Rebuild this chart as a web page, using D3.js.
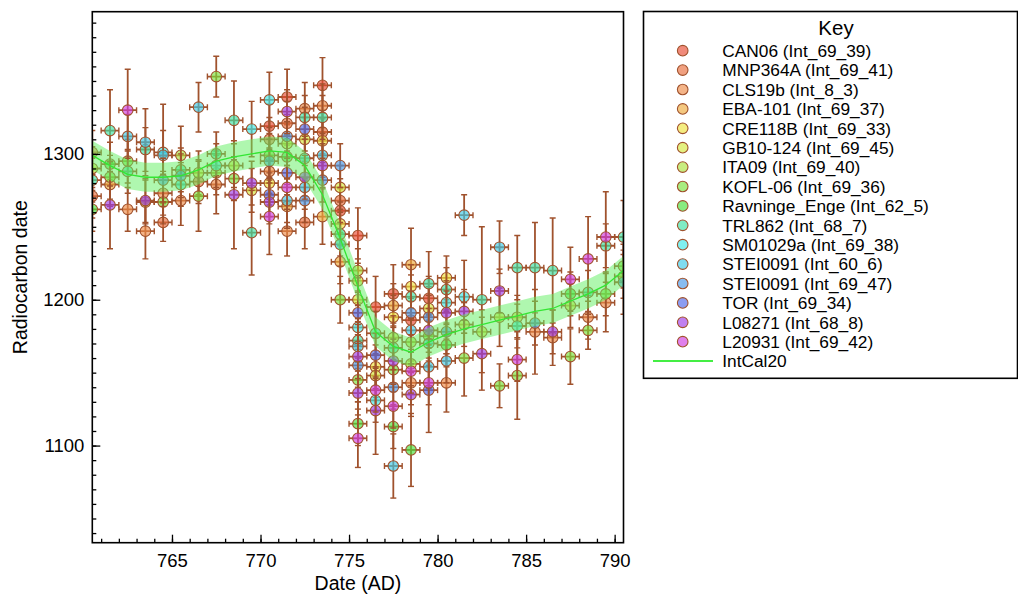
<!DOCTYPE html>
<html>
<head>
<meta charset="utf-8">
<script src="https://cdn.jsdelivr.net/npm/d3@7"></script>
<style>
  body { margin: 0; background: #fff; }
  svg { display: block; }
  text { font-family: "Liberation Sans", Arial, Helvetica, sans-serif; fill: #000; }
</style>
</head>
<body>
<svg id="chart" width="1018" height="595"></svg>
<script>
// series names, in key order
const names = [
  "CAN06 (Int_69_39)", "MNP364A (Int_69_41)", "CLS19b (Int_8_3)", "EBA-101 (Int_69_37)",
  "CRE118B (Int_69_33)", "GB10-124 (Int_69_45)", "ITA09 (Int_69_40)", "KOFL-06 (Int_69_36)",
  "Ravninge_Enge (Int_62_5)", "TRL862 (Int_68_7)", "SM01029a (Int_69_38)", "STEI0091 (Int_60_6)",
  "STEI0091 (Int_69_47)", "TOR (Int_69_34)", "L08271 (Int_68_8)", "L20931 (Int_69_42)"
];

// [year AD, radiocarbon age, 1 sigma]
const can06 = [[770.5,1319,15],[771.5,1339,19],[773.5,1347,19],[774.5,1261,15],[775.5,1244,19],
  [776.5,1195,21],[777.5,1204,20],[778.5,1186,15],[779.5,1201,15]];
const mnp364a = [[760.5,1271,15],[764.5,1253,13],[766.5,1281,15],[770.5,1310,15],[771.5,1321,15],
  [772.5,1253,18],[773.5,1315,15],[774.5,1268,15]];
const cls19b = [[760.5,1301,15],[762.5,1262,15],[763.5,1247,19],[764.5,1273,15],[765.5,1268,17],
  [767.5,1279,20],[770.5,1288,15],[771.5,1247,17],[772.5,1331,18],[773.5,1333,15],[778.5,1143,15],
  [780.5,1143,20],[785.5,1178,29],[786.5,1174,19],[788.5,1188,15],[789.5,1198,20]];
const eba101 = [[761.5,1279,15],[771.5,1264,15],[773.5,1257,19],[774.5,1226,15],[777.5,1196,15],
  [778.5,1224,25]];
const cre118b = [[770.5,1280,15],[773.5,1309,15],[774.5,1252,15],[775.5,1213,15],[776.5,1154,15],
  [777.5,1188,15],[778.5,1209,15],[780.5,1215,15]];
const gb10124 = [[760.5,1290,15],[763.5,1267,15],[766.5,1287,15],[768.5,1292,15],[769.5,1275,15],
  [771.5,1307,15],[772.5,1310,15],[774.5,1277,15],[775.5,1200,15],[776.5,1148,15],[777.5,1174,15],
  [778.5,1156,15],[779.5,1194,15],[781.5,1183,15],[782.5,1178,15],[783.5,1188,20],[784.5,1188,15],
  [787.5,1196,15]];
const ita09 = [[765.5,1299,20],[767.5,1287,15],[775.5,1220,15],[778.5,1171,15],[790.5,1216,15]];
const kofl06 = [[761.5,1284,15],[762.5,1295,15],[764.5,1267,15],[766.5,1271,24],[767.5,1353,14],
  [768.5,1283,15],[770.5,1299,15],[774.5,1200,16],[775.5,1145,15],[777.5,1152,15],[779.5,1175,15],
  [781.5,1160,26],[783.5,1141,15],[784.5,1148,30],[787.5,1161,19],[788.5,1179,13],[789.5,1204,15],
  [790.5,1223,15]];
const ravninge = [[760.5,1262,15],[761.5,1293,15],[771.5,1298,15],[775.5,1115,15],[777.5,1113,15],
  [778.5,1097,25],[780.5,1169,15],[787.5,1204,15]];
const trl862 = [[760.5,1282,15],[761.5,1316,28],[762.5,1288,15],[763.5,1303,15],[765.5,1289,15],
  [767.5,1300,15],[768.5,1323,27],[769.5,1246,29],[772.5,1325,15],[773.5,1325,15],[774.5,1245,15],
  [775.5,1172,15],[776.5,1177,15],[777.5,1167,15],[778.5,1202,15],[779.5,1211,22],[780.5,1207,15],
  [782.5,1200,50],[784.5,1222,22],[785.5,1222,31],[786.5,1220,36],[788.5,1205,15],[789.5,1237,15],
  [790.5,1243,25]];
const sm01029a = [[764.5,1301,15],[765.5,1279,15],[767.5,1292,15],[769.5,1317,19],[770.5,1337,19],
  [772.5,1297,15],[775.5,1181,15],[776.5,1131,15],[779.5,1170,15],[780.5,1198,15],[781.5,1202,25],
  [784.5,1182,15]];
const stei60 = [[762.5,1312,15],[763.5,1308,23],[764.5,1299,35],[766.5,1332,17],[771.5,1268,15],
  [772.5,1277,15],[773.5,1299,15],[774.5,1238,15],[775.5,1168,15],[777.5,1086,22],[778.5,1179,15],
  [779.5,1154,15],[780.5,1158,15],[781.5,1258,14],[783.5,1236,18]];
const stei69 = [[764.5,1282,15],[765.5,1285,15],[770.5,1295,15],[771.5,1312,15],[772.5,1268,15],
  [773.5,1282,15],[774.5,1292,15],[775.5,1155,15],[777.5,1140,15],[778.5,1191,15],[779.5,1188,15],
  [780.5,1178,15],[785.5,1184,15],[790.5,1212,22]];
const tor = [[770.5,1272,15],[771.5,1287,15],[772.5,1317,15],[775.5,1191,15],[776.5,1162,15],
  [779.5,1138,29]];
const l08271 = [[761.5,1265,30],[763.5,1268,15],[768.5,1272,37],[769.5,1280,15],[770.5,1267,15],
  [771.5,1329,15],[772.5,1284,15],[773.5,1292,15],[775.5,1161,15],[775.5,1136,15],[776.5,1124,30],
  [777.5,1158,15],[778.5,1135,15],[779.5,1179,15],[780.5,1191,15],[781.5,1192,15],[782.5,1163,25],
  [783.5,1206,15],[786.5,1178,15]];
const l20931 = [[762.5,1330,28],[770.5,1257,26],[771.5,1277,15],[775.5,1105,20],[776.5,1138,15],
  [777.5,1127,15],[778.5,1151,15],[779.5,1143,15],[784.5,1159,15],[787.5,1214,22],[788.5,1228,29],
  [789.5,1243,31]];

const seriesData = [can06, mnp364a, cls19b, eba101, cre118b, gb10124, ita09, kofl06,
  ravninge, trl862, sm01029a, stei60, stei69, tor, l08271, l20931];

// IntCal20 curve
const calYears = [760.5,761.5,762.5,763.5,764.5,765.5,766.5,767.5,768.5,769.5,770.5,771.5,772.5,
  773.5,774.5,775.5,776.5,777.5,778.5,779.5,780.5,781.5,782.5,783.5,784.5,785.5,786.5,787.5,
  788.5,789.5,790.5];
const calC14 = [1299,1292,1286,1284,1284,1285,1289,1295,1298,1300,1302,1301,1292,1272,1242,1209,
  1178,1168,1164,1171,1176,1180,1183,1186,1189,1192,1194,1199,1204,1210,1220];
const calSigma = [10,10,10,10,10,10,10,10,10,10,10,10,10,10,10,10,10,10,10,10,10,10,10,10,10,10,
  10,10,10,10,10];

const xMajor = [765, 770, 775, 780, 785, 790];
const yMajor = [1100, 1200, 1300];

// key colours as they show on white
const keyColors = ["#f08a7a","#f0a080","#f4b488","#f4c880","#f4ec80","#e4f080","#c8ec80","#a8ec80",
  "#88ec80","#80ecc4","#80f0f0","#80dcf0","#88bcf0","#8c9cf0","#c080f0","#e080ec"];
const ALPHA = 0.65;
const BROWN = "#a0522d";
const baseColor = hex => {
  const c = d3.rgb(hex);
  const f = v => Math.max(0, Math.round(255 - (255 - v) / ALPHA));
  return d3.rgb(f(c.r), f(c.g), f(c.b)).formatHex();
};

const svg = d3.select("#chart");
const L = 92.3, R = 623.5, T = 11.7, B = 542.7;
const x = d3.scaleLinear().domain([760.5, 790.5]).range([L, R]);
const y = d3.scaleLinear().domain([1033.4, 1397.5]).range([B, T]);

svg.append("clipPath").attr("id", "plotclip")
  .append("rect").attr("x", L).attr("y", T).attr("width", R - L).attr("height", B - T);

const plot = svg.append("g").attr("clip-path", "url(#plotclip)");

// ── observations: per series, error bars then markers ──
seriesData.forEach((rows, si) => {
  const g = plot.append("g");
  const fill = baseColor(keyColors[si]);
  rows.forEach(([yr, c14, s]) => {
    const cx = x(yr), cy = y(c14), y0 = y(c14 + s), y1 = y(c14 - s);
    const x0 = x(yr - 0.5), x1 = x(yr + 0.5);
    const bar = g.append("g").attr("stroke", BROWN).attr("fill", "none");
    bar.append("line").attr("x1", cx).attr("x2", cx).attr("y1", y0).attr("y2", y1).attr("stroke-width", 1.8);
    bar.append("line").attr("x1", cx - 3).attr("x2", cx + 3).attr("y1", y0).attr("y2", y0).attr("stroke-width", 1.4);
    bar.append("line").attr("x1", cx - 3).attr("x2", cx + 3).attr("y1", y1).attr("y2", y1).attr("stroke-width", 1.4);
    bar.append("line").attr("x1", x0).attr("x2", x1).attr("y1", cy).attr("y2", cy).attr("stroke-width", 1.8);
    bar.append("line").attr("x1", x0).attr("x2", x0).attr("y1", cy - 3).attr("y2", cy + 3).attr("stroke-width", 1.4);
    bar.append("line").attr("x1", x1).attr("x2", x1).attr("y1", cy - 3).attr("y2", cy + 3).attr("stroke-width", 1.4);
  });
  g.selectAll("circle").data(rows).join("circle")
    .attr("cx", d => x(d[0])).attr("cy", d => y(d[1])).attr("r", 5.3)
    .attr("fill", fill).attr("fill-opacity", ALPHA)
    .attr("stroke", BROWN).attr("stroke-width", 1.1);
});

// ── IntCal20 band + line ──
const cal = calYears.map((yr, i) => ({ yr, c: calC14[i], s: calSigma[i] }));
plot.append("path")
  .attr("d", d3.area().x(d => x(d.yr)).y0(d => y(d.c - d.s)).y1(d => y(d.c + d.s))(cal))
  .attr("fill", "rgb(96,240,96)").attr("fill-opacity", 0.5);
plot.append("path")
  .attr("d", d3.line().x(d => x(d.yr)).y(d => y(d.c))(cal))
  .attr("fill", "none").attr("stroke", "#33e633").attr("stroke-width", 1.3);

// ── axes (ticks point inward) ──
const xAxisG = svg.append("g").attr("transform", `translate(0,${B})`);
xAxisG.call(d3.axisBottom(x).tickValues(d3.range(761, 791)).tickSize(-4).tickFormat(""));
xAxisG.append("g").call(d3.axisBottom(x).tickValues(xMajor).tickSize(-8).tickPadding(11).tickFormat(d3.format("d")));
const yAxisG = svg.append("g").attr("transform", `translate(${L},0)`);
yAxisG.call(d3.axisLeft(y).tickValues(d3.range(1040, 1400, 10)).tickSize(-4).tickFormat(""));
yAxisG.append("g").call(d3.axisLeft(y).tickValues(yMajor).tickSize(-8).tickPadding(8).tickFormat(d3.format("d")));
svg.selectAll(".domain").remove();
svg.selectAll(".tick line").attr("stroke", "#000").attr("stroke-width", 1.3);
svg.selectAll(".tick text").attr("font-size", 18.5).attr("font-family", null).style("fill", "#000");

svg.append("rect").attr("x", L).attr("y", T).attr("width", R - L).attr("height", B - T)
  .attr("fill", "none").attr("stroke", "#000").attr("stroke-width", 1.6);

svg.append("text").attr("x", (L + R) / 2).attr("y", 590).attr("text-anchor", "middle")
  .attr("font-size", 19.5).text("Date (AD)");
svg.append("text").attr("transform", `translate(27,${(T + B) / 2}) rotate(-90)`)
  .attr("text-anchor", "middle").attr("font-size", 19.5).text("Radiocarbon date");

// ── key ──
const key = svg.append("g");
key.append("rect").attr("x", 643.5).attr("y", 11.5).attr("width", 374).attr("height", 366.8)
  .attr("fill", "#fff").attr("stroke", "#000").attr("stroke-width", 1.6);
key.append("text").attr("x", 836).attr("y", 35).attr("text-anchor", "middle")
  .attr("font-size", 20.5).text("Key");
const rowY = i => 50.7 + i * 19.4;
names.forEach((n, i) => {
  key.append("circle").attr("cx", 682.7).attr("cy", rowY(i)).attr("r", 5.3)
    .attr("fill", baseColor(keyColors[i])).attr("fill-opacity", ALPHA)
    .attr("stroke", BROWN).attr("stroke-width", 1.1);
  key.append("text").attr("x", 722.3).attr("y", rowY(i) + 6.3).attr("font-size", 17.3).text(n);
});
const iy = rowY(names.length);
key.append("line").attr("x1", 653).attr("x2", 713).attr("y1", iy).attr("y2", iy)
  .attr("stroke", "#44ee44").attr("stroke-width", 2);
key.append("text").attr("x", 722.3).attr("y", iy + 6.3).attr("font-size", 17.3).text("IntCal20");
</script>
</body>
</html>
